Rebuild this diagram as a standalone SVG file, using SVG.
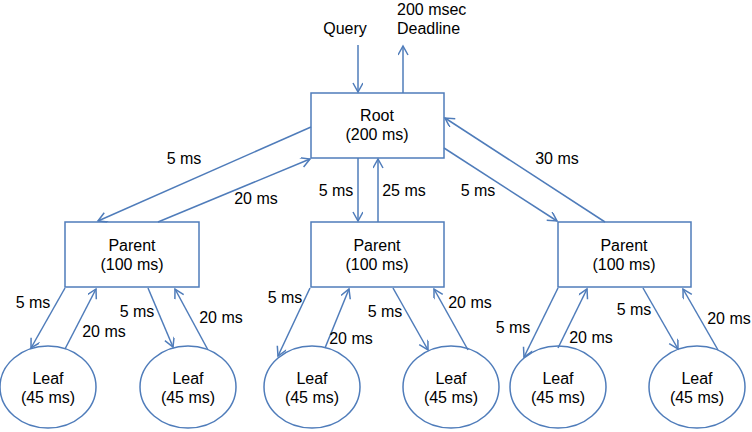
<svg xmlns="http://www.w3.org/2000/svg" width="752" height="432" viewBox="0 0 752 432">
<style>
.box{fill:#fff;stroke:#4f7cba;stroke-width:1.5}
.c line{stroke:#4f7cba;stroke-width:1.5;marker-end:url(#a)}
text{font-family:"Liberation Sans",Arial,sans-serif;font-size:16px;fill:#000}
.m{text-anchor:middle}
</style>
<defs>
<marker id="a" markerWidth="14" markerHeight="14" refX="10" refY="5" orient="auto" markerUnits="userSpaceOnUse">
<path d="M1,0 L10,5 L1,10" fill="none" stroke="#4f7cba" stroke-width="1.5"/>
</marker>
</defs>
<rect width="752" height="432" fill="#fff"/>
<g id="root"><rect class="box" x="311" y="93" width="133" height="65"/><text class="m" x="377" y="121">Root</text><text class="m" x="377" y="140">(200 ms)</text></g>
<g id="parent1"><rect class="box" x="65" y="222" width="134" height="65"/><text class="m" x="132" y="251">Parent</text><text class="m" x="132" y="270">(100 ms)</text></g>
<g id="parent2"><rect class="box" x="311" y="222" width="133" height="65"/><text class="m" x="377" y="251">Parent</text><text class="m" x="377" y="270">(100 ms)</text></g>
<g id="parent3"><rect class="box" x="558" y="222" width="133" height="65"/><text class="m" x="624" y="251">Parent</text><text class="m" x="624" y="270">(100 ms)</text></g>
<g id="leaf1"><ellipse class="box" cx="48" cy="387" rx="48" ry="41"/><text class="m" x="48" y="384">Leaf</text><text class="m" x="48" y="403">(45 ms)</text></g>
<g id="leaf2"><ellipse class="box" cx="188" cy="387" rx="48" ry="41"/><text class="m" x="188" y="384">Leaf</text><text class="m" x="188" y="403">(45 ms)</text></g>
<g id="leaf3"><ellipse class="box" cx="312" cy="387" rx="48" ry="41"/><text class="m" x="312" y="384">Leaf</text><text class="m" x="312" y="403">(45 ms)</text></g>
<g id="leaf4"><ellipse class="box" cx="451" cy="387" rx="48" ry="41"/><text class="m" x="451" y="384">Leaf</text><text class="m" x="451" y="403">(45 ms)</text></g>
<g id="leaf5"><ellipse class="box" cx="558" cy="387" rx="48" ry="41"/><text class="m" x="558" y="384">Leaf</text><text class="m" x="558" y="403">(45 ms)</text></g>
<g id="leaf6"><ellipse class="box" cx="697" cy="387" rx="48" ry="41"/><text class="m" x="697" y="384">Leaf</text><text class="m" x="697" y="403">(45 ms)</text></g>
<g id="connectors" class="c">
<line x1="358" y1="45" x2="358" y2="92"/>
<line x1="403" y1="93" x2="403" y2="46"/>
<line x1="311" y1="127" x2="98" y2="221"/>
<line x1="158" y1="222" x2="310" y2="159"/>
<line x1="358" y1="158" x2="358" y2="221"/>
<line x1="378" y1="222" x2="378" y2="159"/>
<line x1="444" y1="148" x2="557" y2="221"/>
<line x1="605" y1="222" x2="445" y2="118"/>
<line x1="65" y1="288" x2="31" y2="348"/>
<line x1="65" y1="349" x2="96" y2="289"/>
<line x1="148" y1="288" x2="173" y2="347"/>
<line x1="208" y1="350" x2="175" y2="289"/>
<line x1="310" y1="288" x2="278" y2="356"/>
<line x1="325" y1="348" x2="349" y2="289"/>
<line x1="393" y1="288" x2="428" y2="350"/>
<line x1="468" y1="350" x2="434" y2="289"/>
<line x1="558" y1="288" x2="524" y2="357"/>
<line x1="558" y1="348" x2="587" y2="289"/>
<line x1="643" y1="288" x2="678" y2="349"/>
<line x1="718" y1="350" x2="683" y2="289"/>
</g>
<g id="labels">
<text class="m" x="345" y="34">Query</text>
<text x="397" y="15">200 msec</text>
<text x="397" y="34">Deadline</text>
<text class="m" x="184" y="164">5 ms</text>
<text class="m" x="256" y="204">20 ms</text>
<text class="m" x="336" y="196">5 ms</text>
<text class="m" x="404" y="196">25 ms</text>
<text class="m" x="478" y="196">5 ms</text>
<text class="m" x="557" y="164">30 ms</text>
<text class="m" x="33" y="308">5 ms</text>
<text class="m" x="104" y="337">20 ms</text>
<text class="m" x="137" y="317">5 ms</text>
<text class="m" x="221" y="323">20 ms</text>
<text class="m" x="285" y="303">5 ms</text>
<text class="m" x="351" y="344">20 ms</text>
<text class="m" x="385" y="317">5 ms</text>
<text class="m" x="470" y="308">20 ms</text>
<text class="m" x="513" y="333">5 ms</text>
<text class="m" x="591" y="343">20 ms</text>
<text class="m" x="634" y="315">5 ms</text>
<text class="m" x="729" y="324">20 ms</text>
</g>
</svg>
